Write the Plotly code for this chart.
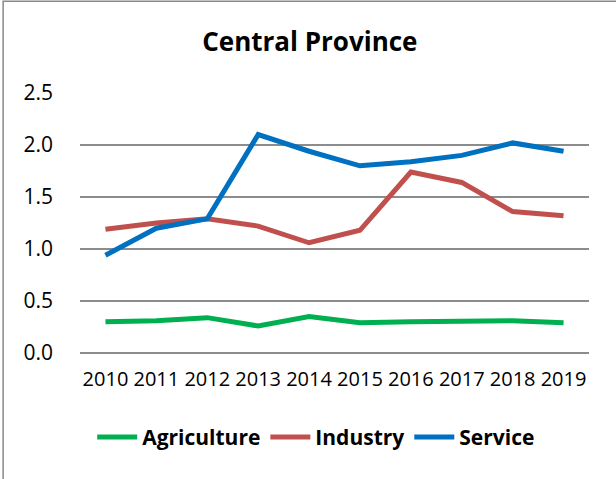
import plotly.graph_objects as go

years = ["2010", "2011", "2012", "2013", "2014", "2015", "2016", "2017", "2018", "2019"]
agriculture = [0.30, 0.31, 0.34, 0.26, 0.35, 0.29, 0.30, 0.30, 0.31, 0.29]
industry = [1.19, 1.25, 1.29, 1.22, 1.06, 1.18, 1.74, 1.64, 1.36, 1.32]
service = [0.94, 1.20, 1.29, 2.10, 1.94, 1.80, 1.84, 1.90, 2.02, 1.94]

FONT = "Open Sans"
GRID = "#8c8c8c"

series = [
    ("Agriculture", agriculture, "#00b050"),
    ("Industry", industry, "#c0504d"),
    ("Service", service, "#0070c0"),
]

fig = go.Figure()
for name, vals, color in series:
    fig.add_trace(
        go.Scatter(
            x=years,
            y=vals,
            name=name,
            mode="lines",
            line=dict(color=color, width=5),
        )
    )

fig.update_layout(
    width=616,
    height=479,
    paper_bgcolor="white",
    plot_bgcolor="white",
    margin=dict(l=80, r=27, t=93, b=126),
    font=dict(family=FONT, size=19, color="black"),
    title=dict(
        text="<b>Central Province</b>",
        x=0.503,
        xanchor="center",
        y=0.912,
        yanchor="middle",
        font=dict(family=FONT, size=26, color="black"),
    ),
    legend=dict(
        orientation="h",
        x=0.464,
        xanchor="center",
        y=-0.324,
        yanchor="middle",
        font=dict(family=FONT, size=21, color="black", weight="bold"),
        itemwidth=40,
    ),
    showlegend=True,
)

fig.update_xaxes(
    type="category",
    range=[-0.5, 9.5],
    showgrid=False,
    showline=False,
    ticks="",
    ticklabelstandoff=12,
    tickfont=dict(size=20),
)
fig.update_yaxes(
    range=[0, 2.5],
    dtick=0.5,
    tickformat=".1f",
    showgrid=True,
    gridcolor=GRID,
    gridwidth=1.5,
    zeroline=True,
    zerolinecolor=GRID,
    zerolinewidth=1.5,
    showline=False,
    ticks="",
    ticklabelstandoff=26,
    tickfont=dict(size=21),
)

# chart-area border (only left and top edges fall inside the picture)
fig.add_shape(
    type="rect",
    xref="paper",
    yref="paper",
    x0=-0.151,
    x1=1.2,
    y0=-0.8,
    y1=1.353,
    line=dict(color="#898989", width=1.5),
    layer="below",
)

fig.write_html(
    "out.html",
    config={"displayModeBar": False},
    post_script="document.body.style.margin='0';",
)
